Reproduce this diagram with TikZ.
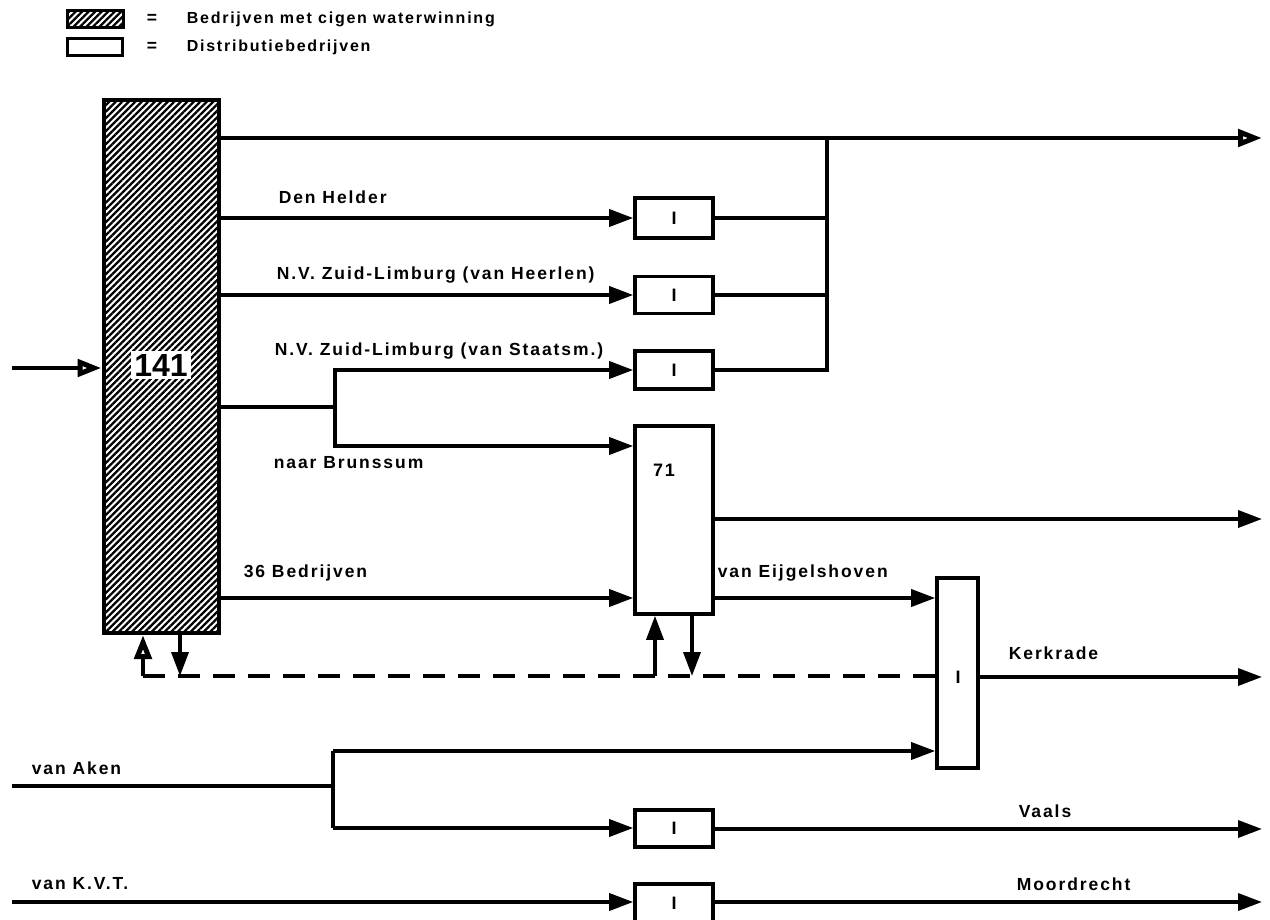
\documentclass[tikz,border=0pt]{standalone}
\usepackage{fontspec}
\setmainfont{Liberation Sans}
\newfontfamily\labfont[LetterSpace=11]{Liberation Sans}
\usetikzlibrary{arrows.meta,patterns.meta}
\begin{document}
\begin{tikzpicture}[x=1pt,y=-1pt,
  line width=3.6pt,
  hatch/.style={draw, line width=4pt, pattern={Lines[angle=45,distance=4.6pt,line width=2.3pt]}},
  box/.style={draw, line width=3.6pt, fill=white, minimum width=78pt, inner sep=0pt},
  vbox/.style={draw, line width=3.6pt, fill=white, inner sep=0pt},
  lab/.style={anchor=west, inner sep=0pt, font=\labfont\bfseries\fontsize{17.5}{20}\selectfont},
  leglab/.style={anchor=west, inner sep=0pt, font=\labfont\bfseries\fontsize{16}{18}\selectfont},
  boxlab/.style={inner sep=0pt, font=\labfont\bfseries\fontsize{18}{20}\selectfont},
  arr/.style={-{Triangle[length=24pt,width=17pt]}},
  oarr/.style={-{Triangle[open,length=24pt,width=17pt,line width=5pt]}},
  dashline/.style={dash pattern=on 22pt off 13pt}
]
\useasboundingbox (0,0) rectangle (1270,920);

% legend
\node[hatch, line width=3pt, minimum width=56pt, minimum height=17pt, inner sep=0pt] (leg1) at (95,19.5) {};
\node[vbox, line width=3pt, minimum width=55pt, minimum height=17pt] (leg2) at (94.5,47.5) {};
\node[lab] (eq1) at (145,19) {=};
\node[lab] (eq2) at (145,47) {=};
\node[leglab] (legt1) at (185,19) {Bedrijven met cigen waterwinning};
\node[leglab] (legt2) at (185,47) {Distributiebedrijven};

% main boxes
\node[hatch, minimum width=115pt, minimum height=533pt, inner sep=0pt] (big) at (161,366.5) {};
\node[fill=white, inner sep=3pt, font=\bfseries\fontsize{32}{32}\selectfont] (big141) at (161,365) {141};

\node[box, minimum height=40pt] (b1) at (674,218) {};
\node[boxlab] at (b1) {I};
\node[box, minimum height=37pt] (b2) at (674,295) {};
\node[boxlab] at (b2) {I};
\node[box, minimum height=38pt] (b3) at (674,370) {};
\node[boxlab] at (b3) {I};
\node[box, minimum height=188pt] (b71) at (674,520) {};
\node[boxlab] (l71) at (664,470) {71};
\node[vbox, minimum width=41pt, minimum height=190pt] (bK) at (957.5,673) {};
\node[boxlab] at (958,677) {I};
\node[box, minimum height=37pt] (bV) at (674,828.5) {};
\node[boxlab] at (bV) {I};
\node[box, minimum height=38pt] (bM) at (674,903) {};
\node[boxlab] at (bM) {I};

% coordinates
\coordinate (in) at (12,368);
\coordinate (topend) at (1262,138);
\coordinate (J) at (827,138);
\coordinate (br) at (335,407);
\coordinate (brlow) at (335,446);
\coordinate (r71) at (1262,519);
\coordinate (row36) at (0,598);
\coordinate (rK) at (1262,677);
\coordinate (dashL) at (143,676);
\coordinate (downL) at (180,676);
\coordinate (up71) at (655,676);
\coordinate (down71) at (692,676);
\coordinate (aken) at (12,786);
\coordinate (akbr) at (333,786);
\coordinate (akhi) at (333,751);
\coordinate (aklo) at (333,828);
\coordinate (rV) at (1262,829);
\coordinate (kvt) at (12,902);
\coordinate (rM) at (1262,902);

% connectors
\draw[oarr] (in) -- (in -| big.west);
\draw[oarr] (topend -| big.east) -- (topend);
\draw (b1.east) -- (b1.east -| J);
\draw (b2.east) -- (b2.east -| J);
\draw (J) |- (b3.east);
\draw[arr] (b1.west -| big.east) -- (b1.west);
\draw[arr] (b2.west -| big.east) -- (b2.west);
\draw (br -| big.east) -- (br);
\draw[arr] (br) |- (b3.west);
\draw[arr] (br) |- (brlow -| b71.west);
\draw[arr] (row36 -| big.east) -- (row36 -| b71.west);
\draw[arr] (row36 -| b71.east) -- (row36 -| bK.west);
\draw[arr] (r71 -| b71.east) -- (r71);
\draw[arr] (rK -| bK.east) -- (rK);
\draw[dashline] (dashL) -- (dashL -| bK.west);
\draw[oarr] (dashL) -- (dashL |- big.south);
\draw[arr] (downL |- big.south) -- (downL);
\draw[arr] (up71) -- (up71 |- b71.south);
\draw[arr] (down71 |- b71.south) -- (down71);
\draw (aken) -- (akbr);
\draw (akhi) -- (aklo);
\draw[arr] (akhi) -- (akhi -| bK.west);
\draw[arr] (aklo) -- (aklo -| bV.west);
\draw[arr] (rV -| bV.east) -- (rV);
\draw[arr] (kvt) -- (kvt -| bM.west);
\draw[arr] (rM -| bM.east) -- (rM);

% labels
\node[lab] (tDH) at (277,197) {Den Helder};
\node[lab] (tHe) at (275,275) {N.V. Zuid-Limburg (van Heerlen)};
\node[lab] (tSt) at (273,351) {N.V. Zuid-Limburg (van Staatsm.)};
\node[lab] (tBr) at (272,463) {naar Brunssum};
\node[lab] (t36) at (242,573) {36 Bedrijven};
\node[lab] (tEi) at (716,573) {van Eijgelshoven};
\node[lab] (tKe) at (1007,653) {Kerkrade};
\node[lab] (tVa) at (1017,811) {Vaals};
\node[lab] (tMo) at (1015,884) {Moordrecht};
\node[lab] (tAk) at (30,768) {van Aken};
\node[lab] (tKV) at (30,884) {van K.V.T.};
\end{tikzpicture}
\end{document}
